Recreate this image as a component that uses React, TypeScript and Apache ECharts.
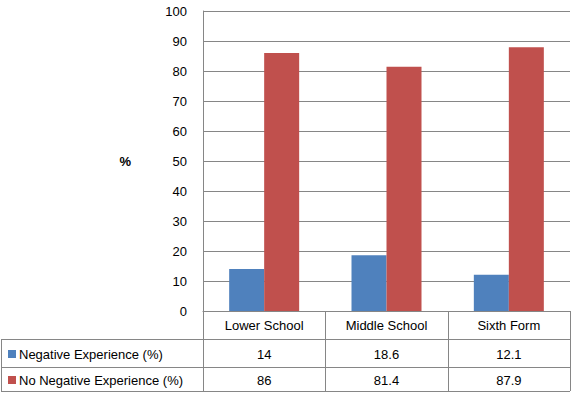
import React, { useEffect, useRef } from "react";
import * as echarts from "echarts";

const categories = ["Lower School", "Middle School", "Sixth Form"];
const seriesNames = ["Negative Experience (%)", "No Negative Experience (%)"];
const negative = [14, 18.6, 12.1];
const noNegative = [86, 81.4, 87.9];
const colors = ["#4F81BD", "#C0504D"];

const W = 572;
const H = 393;
const GL = 203;
const GT = 11;
const GR = 570;
const GB = 311;
const ROW1 = 339;
const ROW2 = 367;
const TB = 391;
const LINE = "#868686";
const FONT = "'Liberation Sans', Arial, sans-serif";
const FS = 13;

export default function App() {
  const ref = useRef<HTMLDivElement>(null);
  useEffect(() => {
    if (!ref.current) return;
    const chart = echarts.init(ref.current, null, { renderer: "svg" });
    const cw = (GR - GL) / categories.length;
    const graphics: any[] = [];
    const ln = (x1: number, y1: number, x2: number, y2: number) => ({
      type: "line",
      shape: { x1, y1, x2, y2 },
      style: { stroke: LINE, lineWidth: 1 },
      silent: true,
    });
    graphics.push(ln(1, ROW1 + 0.5, GR, ROW1 + 0.5));
    graphics.push(ln(1, ROW2 + 0.5, GR, ROW2 + 0.5));
    graphics.push(ln(1, TB + 0.5, GR, TB + 0.5));
    graphics.push(ln(1.5, ROW1, 1.5, TB));
    for (let i = 0; i <= categories.length; i++) {
      const x = Math.round(GL + cw * i) + 0.5;
      graphics.push(ln(x, GB, x, TB));
    }
    const rows = [negative, noNegative];
    const rowCenters = [(ROW1 + ROW2) / 2 + 1, (ROW2 + TB) / 2 + 1];
    rows.forEach((vals, r) => {
      const cy = rowCenters[r];
      graphics.push({
        type: "rect",
        shape: { x: 8, y: cy - 4, width: 8, height: 8 },
        style: { fill: colors[r] },
      });
      graphics.push({
        type: "text",
        x: 19,
        y: cy,
        style: {
          text: seriesNames[r],
          fill: "#000",
          font: `${FS}px ${FONT}`,
          textAlign: "left",
          textVerticalAlign: "middle",
        },
      });
      vals.forEach((v, i) => {
        graphics.push({
          type: "text",
          x: GL + cw * (i + 0.5),
          y: cy,
          style: {
            text: String(v),
            fill: "#000",
            font: `${FS}px ${FONT}`,
            textAlign: "center",
            textVerticalAlign: "middle",
          },
        });
      });
    });

    chart.setOption({
      animation: false,
      backgroundColor: "#fff",
      grid: { left: GL, top: GT, right: W - GR, bottom: H - GB, containLabel: false },
      xAxis: {
        type: "category",
        data: categories,
        axisLine: { show: true, lineStyle: { color: LINE } },
        axisTick: { show: false },
        axisLabel: { color: "#000", fontSize: FS, fontFamily: FONT, margin: 8 },
      },
      yAxis: {
        type: "value",
        min: 0,
        max: 100,
        interval: 10,
        name: "%",
        nameLocation: "middle",
        nameRotate: 0,
        nameGap: 72,
        nameTextStyle: { color: "#000", fontSize: FS, fontWeight: "bold", fontFamily: FONT },
        axisLine: { show: true, lineStyle: { color: LINE } },
        axisTick: { show: false },
        axisLabel: { color: "#000", fontSize: FS, fontFamily: FONT, margin: 16 },
        splitLine: { show: true, lineStyle: { color: LINE } },
      },
      series: [
        {
          name: seriesNames[0],
          type: "bar",
          data: negative,
          barWidth: 35,
          barGap: "0%",
          itemStyle: { color: colors[0] },
        },
        {
          name: seriesNames[1],
          type: "bar",
          data: noNegative,
          barWidth: 35,
          barGap: "0%",
          itemStyle: { color: colors[1] },
        },
      ],
      graphic: graphics,
    });
    return () => chart.dispose();
  }, []);
  return (
    <div
      ref={ref}
      style={{ position: "absolute", left: 0, top: 0, width: W, height: H }}
    />
  );
}
